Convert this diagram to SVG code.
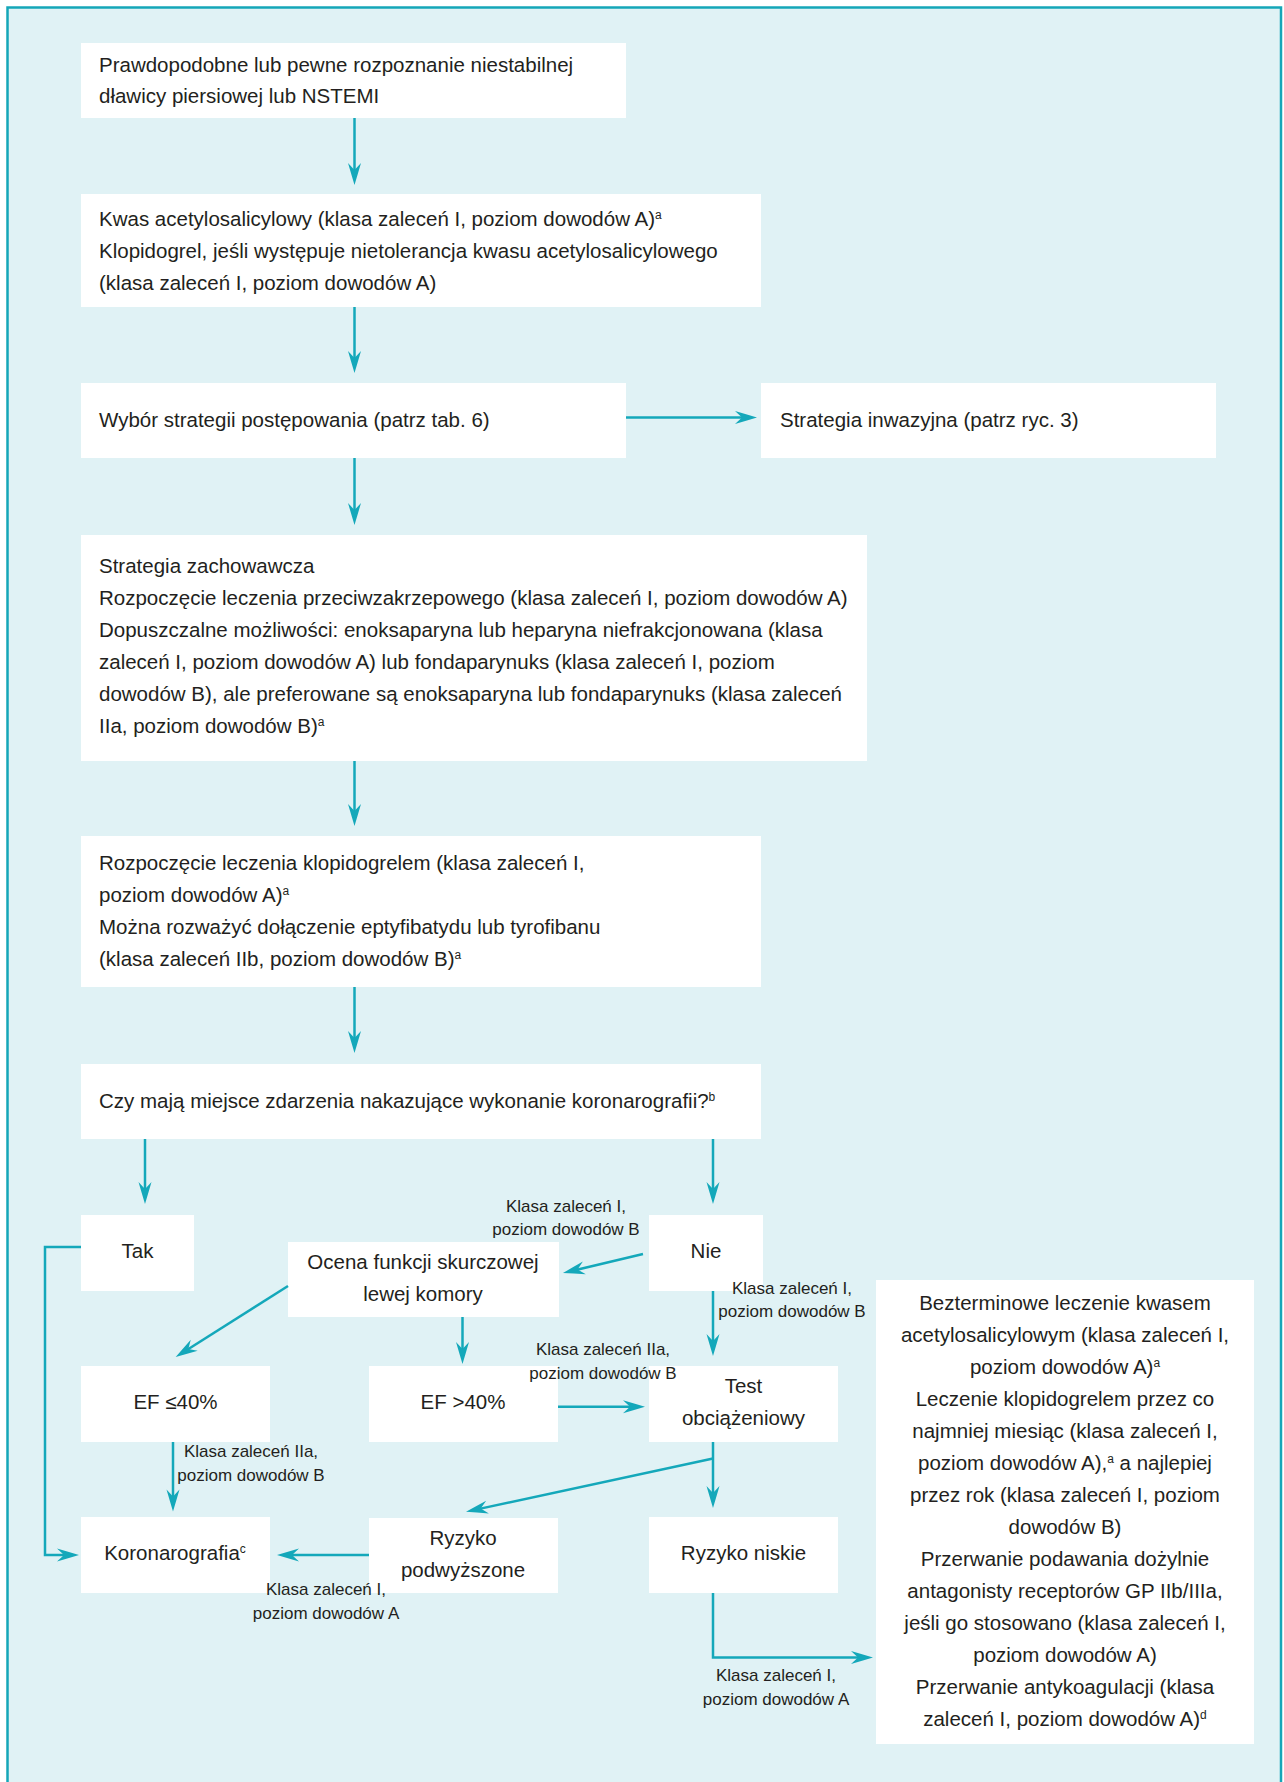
<svg xmlns="http://www.w3.org/2000/svg" width="1284" height="1782" viewBox="0 0 1284 1782">
<style>
.bg{fill:#e0f2f5;stroke:#14a6b8;stroke-width:2.5}
.box{fill:#ffffff}
text{font-family:"Liberation Sans",Arial,sans-serif;font-size:20.5px;fill:#231f20}
.c{text-anchor:middle}
.lbl{font-size:17px}
.sup{font-size:12px}
.conn{stroke:#14a8ba;stroke-width:2.5;fill:none;marker-end:url(#ah)}
.line{stroke:#14a8ba;stroke-width:2.5;fill:none}
</style>
<defs>
<marker id="ah" markerUnits="userSpaceOnUse" viewBox="-23 -7 24 14" refX="-10" refY="0" markerWidth="24" markerHeight="14" orient="auto">
<path d="M0,0 Q-10,-3 -22,-6.5 L-15,0 L-22,6.5 Q-10,3 0,0 Z" fill="#14a8ba"/>
</marker>
</defs>
<rect x="0" y="0" width="1284" height="1782" fill="#ffffff"/>
<rect class="bg" x="7.5" y="7.5" width="1273.5" height="1790"/>

<g id="n1"><rect class="box" x="81" y="43" width="545" height="75"/>
<text x="99" y="72">Prawdopodobne lub pewne rozpoznanie niestabilnej</text>
<text x="99" y="103">dławicy piersiowej lub NSTEMI</text></g>

<g id="n2"><rect class="box" x="81" y="194" width="680" height="113"/>
<text x="99" y="226">Kwas acetylosalicylowy (klasa zaleceń I, poziom dowodów A)<tspan class="sup" dy="-7">a</tspan></text>
<text x="99" y="258">Klopidogrel, jeśli występuje nietolerancja kwasu acetylosalicylowego</text>
<text x="99" y="290">(klasa zaleceń I, poziom dowodów A)</text></g>

<g id="n3"><rect class="box" x="81" y="383" width="545" height="75"/>
<text x="99" y="426.5">Wybór strategii postępowania (patrz tab. 6)</text></g>

<g id="n4"><rect class="box" x="761" y="383" width="455" height="75"/>
<text x="780" y="426.5">Strategia inwazyjna (patrz ryc. 3)</text></g>

<g id="n5"><rect class="box" x="81" y="535" width="786" height="226"/>
<text x="99" y="573">Strategia zachowawcza</text>
<text x="99" y="605">Rozpoczęcie leczenia przeciwzakrzepowego (klasa zaleceń I, poziom dowodów A)</text>
<text x="99" y="637">Dopuszczalne możliwości: enoksaparyna lub heparyna niefrakcjonowana (klasa</text>
<text x="99" y="669">zaleceń I, poziom dowodów A) lub fondaparynuks (klasa zaleceń I, poziom</text>
<text x="99" y="701">dowodów B), ale preferowane są enoksaparyna lub fondaparynuks (klasa zaleceń</text>
<text x="99" y="733">IIa, poziom dowodów B)<tspan class="sup" dy="-7">a</tspan></text></g>

<g id="n6"><rect class="box" x="81" y="836" width="680" height="151"/>
<text x="99" y="870">Rozpoczęcie leczenia klopidogrelem (klasa zaleceń I,</text>
<text x="99" y="902">poziom dowodów A)<tspan class="sup" dy="-7">a</tspan></text>
<text x="99" y="934">Można rozważyć dołączenie eptyfibatydu lub tyrofibanu</text>
<text x="99" y="966">(klasa zaleceń IIb, poziom dowodów B)<tspan class="sup" dy="-7">a</tspan></text></g>

<g id="n7"><rect class="box" x="81" y="1064" width="680" height="75"/>
<text x="99" y="1108">Czy mają miejsce zdarzenia nakazujące wykonanie koronarografii?<tspan class="sup" dy="-7">b</tspan></text></g>

<g id="tak"><rect class="box" x="81" y="1215" width="113" height="76"/>
<text class="c" x="137.5" y="1258">Tak</text></g>

<g id="nie"><rect class="box" x="649" y="1215" width="114" height="76"/>
<text class="c" x="706" y="1258">Nie</text></g>

<g id="ocena"><rect class="box" x="288" y="1242" width="271" height="75"/>
<text class="c" x="423" y="1269">Ocena funkcji skurczowej</text>
<text class="c" x="423" y="1301">lewej komory</text></g>

<g id="ef1"><rect class="box" x="81" y="1366" width="189" height="76"/>
<text class="c" x="175.5" y="1409">EF ≤40%</text></g>

<g id="ef2"><rect class="box" x="369" y="1366" width="189" height="76"/>
<text class="c" x="463" y="1409">EF &gt;40%</text></g>

<g id="test"><rect class="box" x="649" y="1366" width="189" height="76"/>
<text class="c" x="743.5" y="1393">Test</text>
<text class="c" x="743.5" y="1425">obciążeniowy</text></g>

<g id="koro"><rect class="box" x="81" y="1517" width="189" height="76"/>
<text class="c" x="175" y="1560">Koronarografia<tspan class="sup" dy="-7">c</tspan></text></g>

<g id="rp"><rect class="box" x="369" y="1518" width="189" height="75"/>
<text class="c" x="463" y="1545">Ryzyko</text>
<text class="c" x="463" y="1577">podwyższone</text></g>

<g id="rn"><rect class="box" x="649" y="1517" width="189" height="76"/>
<text class="c" x="743.5" y="1560">Ryzyko niskie</text></g>

<g id="final"><rect class="box" x="876" y="1280" width="378" height="464"/>
<text class="c" x="1065" y="1310">Bezterminowe leczenie kwasem</text>
<text class="c" x="1065" y="1342">acetylosalicylowym (klasa zaleceń I,</text>
<text class="c" x="1065" y="1374">poziom dowodów A)<tspan class="sup" dy="-7">a</tspan></text>
<text class="c" x="1065" y="1406">Leczenie klopidogrelem przez co</text>
<text class="c" x="1065" y="1438">najmniej miesiąc (klasa zaleceń I,</text>
<text class="c" x="1065" y="1470">poziom dowodów A),<tspan class="sup" dy="-7">a</tspan><tspan dy="7"> a najlepiej</tspan></text>
<text class="c" x="1065" y="1502">przez rok (klasa zaleceń I, poziom</text>
<text class="c" x="1065" y="1534">dowodów B)</text>
<text class="c" x="1065" y="1566">Przerwanie podawania dożylnie</text>
<text class="c" x="1065" y="1598">antagonisty receptorów GP IIb/IIIa,</text>
<text class="c" x="1065" y="1630">jeśli go stosowano (klasa zaleceń I,</text>
<text class="c" x="1065" y="1662">poziom dowodów A)</text>
<text class="c" x="1065" y="1694">Przerwanie antykoagulacji (klasa</text>
<text class="c" x="1065" y="1726">zaleceń I, poziom dowodów A)<tspan class="sup" dy="-7">d</tspan></text></g>

<g id="connectors">
<path class="conn" d="M354.5,118 V175"/>
<path class="conn" d="M354.5,307 V363"/>
<path class="conn" d="M626,417.5 H747"/>
<path class="conn" d="M354.5,458 V515"/>
<path class="conn" d="M354.5,761 V816"/>
<path class="conn" d="M354.5,987 V1043"/>
<path class="conn" d="M145,1139 V1194"/>
<path class="conn" d="M713,1139 V1194"/>
<path class="conn" d="M643,1254 L572.7,1270.7"/>
<path class="conn" d="M288,1286 L184.1,1351.7"/>
<path class="conn" d="M462.5,1317 V1354"/>
<path class="conn" d="M713,1291 V1346"/>
<path class="conn" d="M558,1406.7 H635"/>
<path class="conn" d="M173,1442 V1501.5"/>
<path class="conn" d="M713,1442 V1498"/>
<path class="conn" d="M713,1458.5 L475.8,1509.6"/>
<path class="conn" d="M369,1555 H287"/>
<path class="conn" d="M81,1247 H45 V1555 H69"/>
<path class="conn" d="M713,1593 V1657.5 H863"/>
</g>

<g id="labels">
<text class="lbl c" x="566" y="1212">Klasa zaleceń I,</text>
<text class="lbl c" x="566" y="1235">poziom dowodów B</text>
<text class="lbl c" x="792" y="1294">Klasa zaleceń I,</text>
<text class="lbl c" x="792" y="1317">poziom dowodów B</text>
<text class="lbl c" x="603" y="1355">Klasa zaleceń IIa,</text>
<text class="lbl c" x="603" y="1379">poziom dowodów B</text>
<text class="lbl c" x="251" y="1457">Klasa zaleceń IIa,</text>
<text class="lbl c" x="251" y="1481">poziom dowodów B</text>
<text class="lbl c" x="326" y="1595">Klasa zaleceń I,</text>
<text class="lbl c" x="326" y="1619">poziom dowodów A</text>
<text class="lbl c" x="776" y="1681">Klasa zaleceń I,</text>
<text class="lbl c" x="776" y="1705">poziom dowodów A</text>
</g>
</svg>
